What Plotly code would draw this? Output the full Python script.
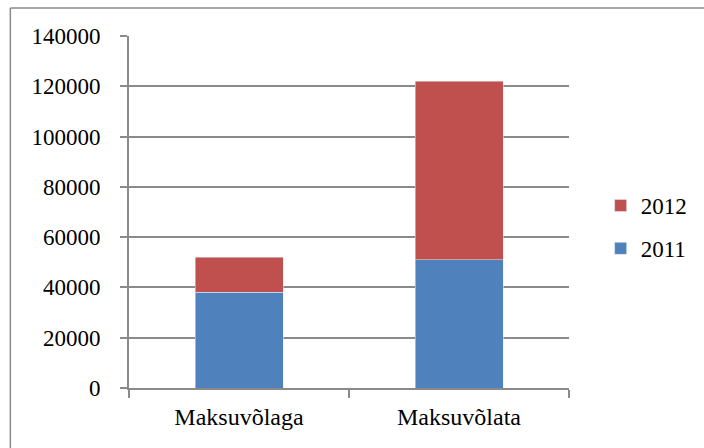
import plotly.graph_objects as go

categories = ["Maksuvõlaga", "Maksuvõlata"]
values_2011 = [38000, 51000]
values_2012 = [14000, 71000]
y_ticks = [0, 20000, 40000, 60000, 80000, 100000, 120000, 140000]

BLUE = "#4F81BD"
RED = "#C0504D"
GRID = "#8a8a8a"
FONT = "Liberation Serif"

fig = go.Figure()
fig.add_trace(go.Bar(name="2011", x=categories, y=values_2011, marker_color=BLUE,
                     legendgroup="a", legendrank=2))
fig.add_trace(go.Bar(name="2012", x=categories, y=values_2012, marker_color=RED,
                     legendgroup="b", legendrank=1))

W, H = 704, 448
L, T = 129, 36
R = W - 574
B = H - 388
pw, ph = W - L - R, H - T - B

fig.update_layout(
    width=W, height=H,
    barmode="stack",
    bargap=0.6,
    margin=dict(l=L, r=R, t=T, b=B, pad=0),
    plot_bgcolor="white",
    paper_bgcolor="white",
    font=dict(family=FONT, size=22, color="black"),
    showlegend=True,
    legend=dict(
        x=(606 - L) / pw, y=(388 - 184) / ph,
        xanchor="left", yanchor="top",
        traceorder="grouped",
        tracegroupgap=10,
        itemwidth=30,
        font=dict(family=FONT, size=23, color="black"),
        bgcolor="rgba(0,0,0,0)",
    ),
    xaxis=dict(
        showline=True, linecolor=GRID, linewidth=2,
        ticks="outside", tickson="boundaries", ticklen=8, tickcolor=GRID, tickwidth=2,
        showgrid=False,
        tickfont=dict(family=FONT, size=24, color="black"),
        ticklabelstandoff=6,
    ),
    yaxis=dict(
        range=[0, 140000],
        tickvals=y_ticks,
        ticktext=[str(v) for v in y_ticks],
        showline=True, linecolor=GRID, linewidth=2,
        ticks="outside", ticklen=7, tickcolor=GRID, tickwidth=2,
        showgrid=True, gridcolor=GRID, gridwidth=1.5,
        zeroline=False,
        tickfont=dict(family=FONT, size=23, color="black"),
        ticklabelstandoff=15,
    ),
)

# outer chart border (left and top edges visible in the reference)
bx = (9 - L) / pw
by = (H - B - 8) / ph
fig.add_shape(type="line", xref="paper", yref="paper",
              x0=bx, x1=bx, y0=by, y1=-1, line=dict(color="#8a8a8a", width=1.5))
fig.add_shape(type="line", xref="paper", yref="paper",
              x0=bx, x1=2, y0=by, y1=by, line=dict(color="#8a8a8a", width=1.5))

fig.write_html(
    "out.html",
    config={"displayModeBar": False},
    post_script="document.body.style.margin='0';"
                "document.documentElement.style.overflow='hidden';"
                "document.body.style.overflow='hidden';",
)
